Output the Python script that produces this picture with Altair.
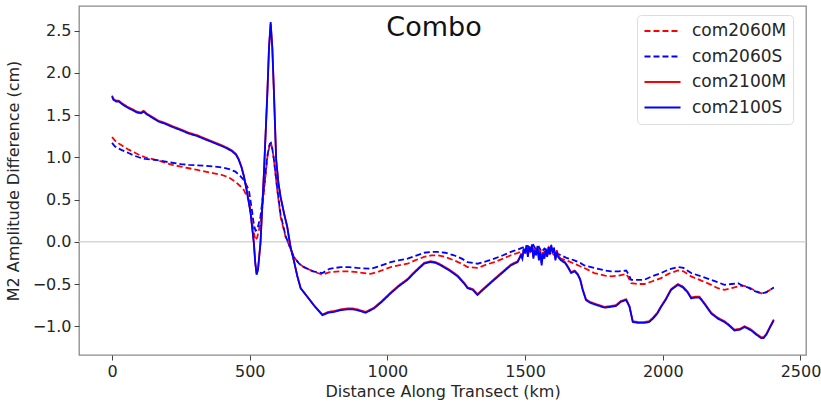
import altair as alt
import pandas as pd

# ---- data ----
km_2060 = [0, 10, 20, 36, 60, 80, 97, 120, 157, 190, 218, 250, 279, 310, 339, 370, 400, 425, 448, 465,
           479, 497, 509, 515, 521, 527, 539, 551, 564, 573, 577, 582, 588, 600, 612, 630, 648, 660, 680, 697,
           730, 764, 790, 830, 860, 891, 939, 970, 1012, 1040, 1073, 1100, 1133, 1160, 1182, 1210, 1242, 1270, 1291, 1327,
           1360, 1388, 1420, 1448, 1475, 1497, 1510, 1520, 1530, 1540, 1550, 1560, 1570, 1580, 1590, 1600, 1610, 1630, 1650, 1679,
           1700, 1715, 1751, 1790, 1812, 1840, 1867, 1875, 1885, 1910, 1933, 1960, 1994, 2020, 2055, 2075, 2103, 2140, 2176, 2200,
           2224, 2250, 2273, 2290, 2309, 2330, 2357, 2375, 2403]

val_2060M = [1.24, 1.20, 1.17, 1.14, 1.09, 1.06, 1.03, 1.00, 0.97, 0.94, 0.91, 0.89, 0.87, 0.85, 0.83, 0.81, 0.79, 0.76, 0.71, 0.66,
             0.61, 0.49, 0.22, 0.10, 0.02, 0.05, 0.22, 0.57, 1.00, 1.16, 1.17, 1.10, 0.97, 0.61, 0.30, 0.06, -0.08, -0.18, -0.26, -0.30,
             -0.35, -0.39, -0.36, -0.35, -0.35, -0.36, -0.38, -0.35, -0.30, -0.28, -0.26, -0.22, -0.18, -0.16, -0.16, -0.18, -0.22, -0.26, -0.30, -0.31,
             -0.27, -0.24, -0.20, -0.16, -0.13, -0.10, -0.08, -0.12, -0.07, -0.14, -0.09, -0.18, -0.12, -0.16, -0.10, -0.14, -0.17, -0.20, -0.22, -0.26,
             -0.29, -0.31, -0.37, -0.40, -0.41, -0.40, -0.38, -0.42, -0.49, -0.50, -0.50, -0.47, -0.43, -0.38, -0.34, -0.35, -0.41, -0.46, -0.51, -0.55,
             -0.57, -0.55, -0.53, -0.52, -0.53, -0.57, -0.61, -0.60, -0.54]

val_2060S = [1.17, 1.13, 1.11, 1.085, 1.05, 1.02, 1.00, 0.98, 0.97, 0.95, 0.935, 0.92, 0.91, 0.905, 0.90, 0.89, 0.88, 0.86, 0.83, 0.78,
             0.73, 0.61, 0.35, 0.20, 0.13, 0.14, 0.30, 0.62, 1.02, 1.16, 1.17, 1.10, 0.97, 0.63, 0.32, 0.07, -0.08, -0.18, -0.26, -0.30,
             -0.35, -0.37, -0.32, -0.30, -0.30, -0.31, -0.32, -0.29, -0.24, -0.22, -0.20, -0.17, -0.13, -0.12, -0.12, -0.13, -0.16, -0.20, -0.24, -0.26,
             -0.23, -0.20, -0.16, -0.12, -0.09, -0.06, -0.05, -0.08, -0.04, -0.10, -0.06, -0.12, -0.08, -0.11, -0.07, -0.10, -0.13, -0.16, -0.19, -0.22,
             -0.25, -0.28, -0.31, -0.34, -0.35, -0.35, -0.34, -0.38, -0.45, -0.45, -0.45, -0.41, -0.37, -0.33, -0.30, -0.31, -0.37, -0.41, -0.45, -0.48,
             -0.51, -0.50, -0.49, -0.52, -0.54, -0.58, -0.61, -0.60, -0.54]

km_2100 = [0, 5, 15, 24, 40, 60, 73, 90, 105, 115, 125, 145, 160, 170, 190, 218, 250, 279, 310, 339,
           370, 400, 420, 436, 450, 460, 470, 479, 491, 503, 515, 520, 525, 530, 539, 551, 564, 570, 576, 582,
           588, 596, 604, 612, 625, 636, 648, 660, 673, 685, 709, 735, 764, 785, 806, 830, 855, 875, 891, 921,
           951, 980, 1012, 1040, 1073, 1100, 1133, 1157, 1175, 1194, 1225, 1255, 1280, 1291, 1310, 1327, 1350, 1388, 1420, 1448,
           1473, 1485, 1490, 1495, 1500, 1505, 1510, 1515, 1520, 1525, 1530, 1535, 1540, 1545, 1550, 1555, 1560, 1565, 1570, 1575,
           1580, 1585, 1590, 1595, 1600, 1605, 1610, 1615, 1620, 1630, 1645, 1655, 1667, 1680, 1691, 1700, 1709, 1721, 1735, 1751,
           1770, 1788, 1812, 1830, 1848, 1867, 1879, 1891, 1910, 1933, 1950, 1964, 1980, 1994, 2010, 2030, 2055, 2073, 2090, 2103,
           2118, 2133, 2150, 2176, 2200, 2224, 2240, 2260, 2280, 2297, 2310, 2321, 2340, 2357, 2366, 2376, 2390, 2403]

val_2100M = [1.73, 1.69, 1.67, 1.67, 1.63, 1.59, 1.57, 1.54, 1.53, 1.55, 1.52, 1.48, 1.45, 1.43, 1.41, 1.37, 1.33, 1.29, 1.26, 1.22,
             1.18, 1.14, 1.11, 1.08, 1.04, 0.98, 0.89, 0.78, 0.58, 0.35, -0.01, -0.24, -0.38, -0.32, -0.01, 0.78, 1.76, 2.29, 2.58, 2.29,
             1.75, 0.97, 0.70, 0.53, 0.33, 0.18, -0.06, -0.22, -0.41, -0.55, -0.65, -0.76, -0.86, -0.83, -0.82, -0.80, -0.79, -0.79, -0.80, -0.83,
             -0.78, -0.70, -0.60, -0.52, -0.44, -0.35, -0.25, -0.23, -0.24, -0.27, -0.33, -0.40, -0.49, -0.54, -0.56, -0.62, -0.55, -0.44, -0.35, -0.27,
             -0.23, -0.15, -0.18, -0.10, -0.12, -0.06, -0.16, -0.08, -0.10, -0.05, -0.18, -0.08, -0.14, -0.07, -0.20, -0.10, -0.25, -0.12, -0.18, -0.10,
             -0.16, -0.08, -0.13, -0.06, -0.11, -0.09, -0.20, -0.10, -0.16, -0.21, -0.24, -0.29, -0.36, -0.34, -0.38, -0.44, -0.56, -0.68, -0.71, -0.73,
             -0.75, -0.77, -0.76, -0.75, -0.70, -0.68, -0.76, -0.94, -0.95, -0.95, -0.94, -0.90, -0.84, -0.76, -0.68, -0.56, -0.50, -0.53, -0.59, -0.66,
             -0.65, -0.65, -0.72, -0.84, -0.90, -0.94, -0.98, -1.04, -1.03, -1.00, -1.02, -1.04, -1.09, -1.13, -1.13, -1.09, -1.00, -0.92]

val_2100S = [1.72, 1.68, 1.66, 1.66, 1.62, 1.58, 1.56, 1.53, 1.52, 1.54, 1.51, 1.47, 1.44, 1.42, 1.40, 1.36, 1.32, 1.28, 1.25, 1.21,
             1.17, 1.13, 1.10, 1.07, 1.03, 0.97, 0.88, 0.77, 0.57, 0.34, -0.02, -0.25, -0.39, -0.33, -0.02, 0.77, 1.76, 2.30, 2.60, 2.30,
             1.76, 0.97, 0.70, 0.53, 0.33, 0.18, -0.06, -0.22, -0.41, -0.55, -0.65, -0.76, -0.87, -0.84, -0.83, -0.81, -0.80, -0.80, -0.81, -0.84,
             -0.79, -0.71, -0.61, -0.53, -0.45, -0.36, -0.26, -0.24, -0.25, -0.28, -0.34, -0.41, -0.50, -0.55, -0.57, -0.63, -0.56, -0.45, -0.36, -0.28,
             -0.24, -0.16, -0.20, -0.08, -0.14, -0.04, -0.18, -0.06, -0.12, -0.03, -0.20, -0.10, -0.16, -0.05, -0.22, -0.12, -0.28, -0.14, -0.20, -0.08,
             -0.18, -0.06, -0.15, -0.04, -0.13, -0.07, -0.22, -0.12, -0.18, -0.22, -0.25, -0.30, -0.37, -0.35, -0.39, -0.45, -0.57, -0.69, -0.72, -0.74,
             -0.76, -0.78, -0.77, -0.76, -0.71, -0.69, -0.77, -0.95, -0.96, -0.96, -0.95, -0.91, -0.85, -0.77, -0.69, -0.57, -0.51, -0.54, -0.60, -0.67,
             -0.66, -0.66, -0.73, -0.85, -0.91, -0.95, -0.99, -1.05, -1.04, -1.01, -1.03, -1.05, -1.10, -1.14, -1.14, -1.10, -1.01, -0.93]

series_names = ["com2060M", "com2060S", "com2100M", "com2100S"]
series_colors = ["#ff0000", "#0000ff", "#ff0000", "#0000ff"]
series_dashes = [[6, 3], [6, 3], [1, 0], [1, 0]]

x_ticks = [0, 500, 1000, 1500, 2000, 2500]
y_ticks = [-1.0, -0.5, 0.0, 0.5, 1.0, 1.5, 2.0, 2.5]

rows = []
for name, kms, vals in [("com2060M", km_2060, val_2060M), ("com2060S", km_2060, val_2060S),
                        ("com2100M", km_2100, val_2100M), ("com2100S", km_2100, val_2100S)]:
    for k, v in zip(kms, vals):
        rows.append({"km": k, "value": v, "series": name})
df = pd.DataFrame(rows)

W, H = 727, 349

x_enc = alt.X("km:Q", scale=alt.Scale(domain=[-120, 2520], nice=False, zero=False),
              axis=alt.Axis(values=x_ticks, title="Distance Along Transect (km)", format="d",
                            titlePadding=4))
y_enc = alt.Y("value:Q", scale=alt.Scale(domain=[-1.34, 2.79], nice=False, zero=False),
              axis=alt.Axis(values=y_ticks, title="M2 Amplitude Difference (cm)", format=".1f",
                            titleX=-66, titleY=H / 2, titleBaseline="middle", titleAngle=-90))

zero = alt.Chart(pd.DataFrame({"value": [0.0]})).mark_rule(color="#d6d6d6", strokeWidth=1.5).encode(y=y_enc)

lines = alt.Chart(df).mark_line(strokeWidth=1.8, clip=True).encode(
    x=x_enc,
    y=alt.Y("value:Q"),
    color=alt.Color("series:N", scale=alt.Scale(domain=series_names, range=series_colors), title=None),
    strokeDash=alt.StrokeDash("series:N", scale=alt.Scale(domain=series_names, range=series_dashes), title=None),
)

title = alt.Chart(pd.DataFrame({"t": ["Combo"]})).mark_text(
    font="DejaVu Sans", fontSize=27, align="center", baseline="middle", x=355, y=22, color="#111111"
).encode(text="t:N")

chart = alt.layer(zero, lines, title).properties(
    width=W, height=H,
    autosize=alt.AutoSizeParams(type="none"),
    padding={"left": 79, "top": 6, "right": 15, "bottom": 49},
).configure_view(
    stroke="#8a8a8a", strokeWidth=1.3
).configure_axis(
    labelFont="DejaVu Sans", labelFontSize=16, labelColor="#262626",
    titleFont="DejaVu Sans", titleFontSize=16, titleColor="#262626", titleFontWeight="normal",
    tickColor="#444444", tickSize=5, labelPadding=3, domain=False, grid=False,
).configure_legend(
    orient="none", legendX=558, legendY=9,
    fillColor="white", strokeColor="#dddddd", cornerRadius=4, padding=6,
    symbolType="stroke", symbolSize=1300, symbolStrokeWidth=2, clipHeight=20,
    labelFont="DejaVu Sans", labelFontSize=17, labelColor="#262626", labelLimit=300,
    rowPadding=5.5, labelOffset=10,
)

chart.save("out.html", embed_options={"renderer": "svg", "actions": False})
